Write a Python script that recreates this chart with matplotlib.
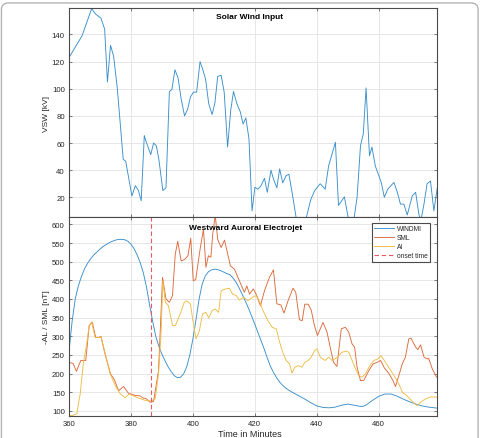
import matplotlib
matplotlib.use("Agg")
import matplotlib.pyplot as plt
from matplotlib.patches import FancyBboxPatch

plt.rcParams['font.family'] = ['Liberation Sans', 'DejaVu Sans']

# solar wind driver (VSW, kV)
vsw_time = [360, 364.2, 367.3, 368.6, 370.3, 371.5, 372.4, 373.4, 374.4, 375.6,
            377.5, 378.3, 380.3, 381.4, 382.4, 383.3, 384.3, 384.9, 386.4, 387.3,
            388.2, 389, 390.3, 391.3, 392.4, 393.2, 394.2, 395.2, 396.2, 397.3,
            398.3, 399.2, 400.2, 401.2, 402.3, 403.2, 404.1, 405.1, 406.2, 407.1,
            408, 409.1, 410.1, 411.2, 412.2, 413.1, 414.2, 415.3, 416.2, 417.1,
            418.1, 419.1, 420, 421, 422, 423.1, 424, 425.2, 426, 427.1,
            428, 429, 430.1, 431, 432.2, 433.4, 434.5, 435.5, 436.6, 438,
            439.3, 441.1, 442.7, 443.8, 446, 447, 448.9, 450.3, 451.2, 452,
            453, 454.1, 455, 455.9, 457, 457.8, 458.9, 460.8, 461.8, 462.9,
            464.9, 466, 467, 468.1, 469.2, 470.8, 471.9, 473, 473.6, 474.6,
            475.6, 476.7, 477.8, 478.9]
vsw_value = [123, 139, 159, 155, 152, 144, 105, 132, 124, 100,
             48, 46.6, 21, 28.6, 25, 17.5, 65.5, 61, 51.5, 60,
             58, 48, 25, 27, 98, 99.4, 114, 108, 92.5, 80,
             85, 94, 97.5, 97.5, 120, 114, 107, 89, 81, 89.6,
             109, 110, 97.5, 57, 84, 98, 89, 83, 74, 78.5,
             63, 10, 27.4, 26, 28.6, 34, 23.7, 40, 33.5, 27,
             41, 30.6, 36, 37, 21, 4, -4, -2, 5, 18,
             25, 30, 26, 43, 60.6, 14, 20.4, 3, -1, 4,
             20, 58, 66.7, 100.6, 50.7, 57, 43, 31, 20, 26,
             31, 23.7, 15, 15, 7, 21, 23.7, 7, 3, 15,
             30, 32, 10, 27]

# westward electrojet (nT)
windmi_time = [360, 360.5, 361, 362, 363, 364, 365, 366, 367, 368,
               369, 370, 371, 372, 373, 374, 375, 376, 377, 378,
               379, 380, 381, 382, 383, 384, 385, 386, 387, 388,
               389, 390, 391, 392, 393, 394, 395, 396, 397, 398,
               399, 400, 401, 402, 403, 404, 405, 406, 407, 408,
               409, 410, 411, 412, 413, 414, 415, 416, 417, 418,
               419, 420, 421, 422, 423, 424, 425, 426, 427, 428,
               429, 430, 431, 432, 434, 436, 438, 440, 442, 444,
               446, 448, 450, 452, 454, 455, 456, 458, 460, 462,
               464, 466, 468, 470, 472, 474, 476, 478, 479]
windmi_value = [260, 300, 340, 400, 435, 460, 481, 496, 508, 518,
                526, 534, 541, 546, 551, 555, 558, 560, 560, 559,
                555, 547, 535, 518, 497, 470, 432, 385, 340, 300,
                273, 252, 234, 218, 205, 194, 189, 190, 199, 218,
                250, 293, 345, 400, 440, 462, 473, 478, 480, 479,
                476, 472, 468, 465, 456, 444, 428, 411, 393, 374,
                353, 332, 310, 288, 266, 242, 220, 203, 189, 177,
                168, 161, 155, 150, 141, 132, 122, 113, 109, 108,
                110, 115, 118, 115, 112, 112, 116, 128, 139, 145,
                145, 139, 131, 124, 118, 113, 110, 108, 107]

sml_time = [360, 361.3, 362.4, 363.8, 365.4, 366.5, 367.5, 368.6, 369.7, 370.3,
            371.7, 373.4, 374.6, 376, 377.6, 379.2, 381.4, 382.9, 384, 384.8,
            386.2, 387.3, 388.9, 390.2, 391.3, 392.4, 393.4, 394.3, 395.1, 396.2,
            397.3, 398.4, 399.3, 400.1, 400.9, 402.4, 403.4, 404.2, 405, 405.8,
            406.4, 407.2, 408, 409.1, 410.2, 411, 412.1, 413.4, 415, 416.6,
            417.4, 418.3, 419.5, 420.4, 421.8, 423.1, 424.7, 426, 427.1, 428.4,
            429.4, 430.7, 432.3, 433.2, 434.4, 435.3, 436.1, 437.2, 438.2, 439.2,
            440.2, 442, 443.3, 444.1, 445.4, 446.5, 447.9, 449.2, 450.3, 451.4,
            452.2, 453, 454.1, 455.2, 456.8, 458.2, 459.5, 460.6, 461.8, 463.2,
            464.6, 465.4, 466.5, 467.6, 468.6, 469.7, 470.4, 471.9, 472.6, 473.5,
            474.6, 475.6, 476.1, 477.3, 478.7]
sml_value = [230, 227, 206, 235, 235, 328, 338, 297, 297, 300,
             250, 199, 184, 154, 165, 147, 141, 140, 134, 133,
             123, 125, 208, 458, 400, 391, 409, 520, 555, 502,
             506, 516, 563, 449, 452, 538, 587, 485, 516, 512,
             574, 625, 560, 538, 558, 529, 489, 480, 449, 418,
             435, 413, 427, 413, 382, 422, 458, 478, 387, 384,
             362, 395, 429, 418, 344, 342, 386, 386, 370, 330,
             302, 337, 311, 279, 230, 219, 320, 324, 311, 279,
             271, 217, 181, 182, 208, 226, 230, 235, 215, 201,
             181, 165, 195, 226, 244, 293, 295, 271, 264, 277,
             244, 239, 241, 212, 190]

ai_time = [360, 361, 362.5, 363.6, 364.6, 365.7, 366.5, 367.3, 368.4, 369.5,
           370.3, 371.7, 373.3, 374.9, 376.5, 378.1, 379.4, 380.8, 382.4, 384.6,
           386.5, 387.8, 388.9, 389.7, 390.3, 391.1, 392.1, 393.4, 394.3, 395.9,
           397.2, 398.1, 399.2, 400, 401, 402.1, 403.1, 404.2, 405.1, 406.2,
           407.2, 408.3, 409.1, 410.5, 411.8, 412.8, 414, 415, 416.4, 417.7,
           419.3, 420.4, 421.5, 422.6, 424.2, 425.6, 426.9, 428, 429, 430.1,
           431.2, 432, 432.9, 433.9, 435.2, 436.1, 437.2, 438.2, 439.3, 440.1,
           441.1, 442.7, 443.8, 444.9, 446.7, 448.1, 449.5, 450.3, 451.4, 452.5,
           453.5, 454.6, 455.7, 457.1, 458.4, 459.7, 460.7, 461.8, 463.2, 464.9,
           466.5, 467.6, 469, 470.3, 471.3, 472.4, 473.5, 475.1, 476.7, 478.7]
ai_value = [87, 87, 92, 145, 226, 279, 328, 338, 297, 296,
            299, 253, 199, 168, 146, 135, 145, 140, 134, 128,
            126, 132, 199, 306, 449, 391, 382, 329, 328, 360,
            391, 395, 387, 342, 293, 315, 360, 364, 349, 369,
            373, 364, 422, 427, 429, 413, 409, 397, 405, 395,
            405, 409, 394, 369, 342, 324, 320, 284, 257, 235,
            226, 201, 217, 221, 217, 230, 235, 244, 262, 266,
            244, 235, 244, 235, 244, 257, 260, 257, 235, 213,
            195, 190, 199, 221, 235, 239, 248, 235, 217, 195,
            172, 150, 141, 130, 121, 114, 123, 132, 137, 137]

onset = 386.4

c_blue = '#3a8fcb'
c_orange = '#dc6a3c'
c_yellow = '#efbc45'
c_onset = '#e65a68'
axis_col = '#4a4a4a'
tick_fs = 5.6


def style_axes(ax):
    ax.grid(True, color='#e3e3e3', linewidth=0.6)
    ax.set_axisbelow(True)
    for sp in ax.spines.values():
        sp.set_color(axis_col)
        sp.set_linewidth(0.8)
    ax.tick_params(direction='in', length=2.5, width=0.5, colors=axis_col,
                   labelcolor='#262626', labelsize=tick_fs,
                   top=True, right=True, pad=3)


fig = plt.figure(figsize=(4.81, 4.39), dpi=100)

# outer rounded frame
frame = FancyBboxPatch((0.003, -0.2), 0.991, 1.191,
                       boxstyle='round,pad=0,rounding_size=0.015',
                       transform=fig.transFigure, fc='none',
                       ec='#b4b4b4', lw=1.0)
fig.patches.append(frame)

ax1 = fig.add_axes([0.1435, 0.5034, 0.765, 0.4761])
ax2 = fig.add_axes([0.1435, 0.0501, 0.765, 0.4533])

# top panel
ax1.plot(vsw_time, vsw_value, color=c_blue, lw=0.65)
ax1.set_xlim(360, 478.8)
ax1.set_ylim(5.5, 159.5)
ax1.set_xticks(range(360, 461, 20))
ax1.set_xticklabels([])
ax1.set_yticks(range(20, 141, 20))
style_axes(ax1)
ax1.set_ylabel('VSW [kV]', fontsize=6, color='#262626', va='center')
ax1.yaxis.set_label_coords(-0.0625, 0.5)
ax1.text(0.492, 0.957, 'Solar Wind Input', transform=ax1.transAxes,
         ha='center', va='center', fontsize=6, fontweight='bold')

# bottom panel
ax2.plot(windmi_time, windmi_value, color=c_blue, lw=0.65, label='WINDMI')
ax2.plot(sml_time, sml_value, color=c_orange, lw=0.65, label='SML')
ax2.plot(ai_time, ai_value, color=c_yellow, lw=0.65, label='AI')
ax2.axvline(onset, color=c_onset, lw=0.8, ls=(0, (4, 2.5)), label='onset time')
ax2.set_xlim(360, 478.8)
ax2.set_ylim(86, 620)
ax2.set_xticks(range(360, 461, 20))
ax2.set_yticks(range(100, 601, 50))
style_axes(ax2)
ax2.set_ylabel('-AL / SML [nT]', fontsize=6, color='#262626', va='center')
ax2.yaxis.set_label_coords(-0.0625, 0.5)
ax2.set_xlabel('Time in Minutes', fontsize=6.5, color='#262626', va='top')
ax2.xaxis.set_label_coords(0.492, -0.066)
ax2.text(0.481, 0.945, 'Westward Auroral Electrojet', transform=ax2.transAxes,
         ha='center', va='center', fontsize=6, fontweight='bold')

leg = ax2.legend(loc='upper right', bbox_to_anchor=(0.981, 0.970),
                 borderaxespad=0, fontsize=4.8, handlelength=3.0,
                 handletextpad=0.4, labelspacing=0.3, borderpad=0.35,
                 fancybox=False, framealpha=1)
leg.get_frame().set_edgecolor(axis_col)
leg.get_frame().set_linewidth(0.8)
for t in leg.get_texts():
    t.set_color('#262626')

fig.savefig('out.png', dpi=100)
